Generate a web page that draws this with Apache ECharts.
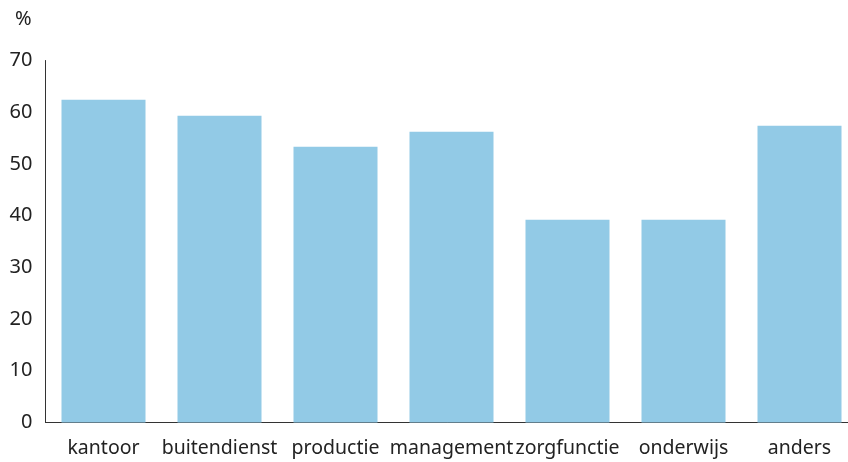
<!DOCTYPE html>
<html><head><meta charset="utf-8">
<script src="https://cdn.jsdelivr.net/npm/echarts@6/dist/echarts.min.js"></script>
<style>html,body{margin:0;padding:0;background:#fff}#c{width:848px;height:462px}</style>
</head><body><div id="c"></div>
<script>
const categories = ['kantoor','buitendienst','productie','management','zorgfunctie','onderwijs','anders'];
const values = [62.4, 59.3, 53.3, 56.2, 39.2, 39.2, 57.4];
const yTicks = [0,10,20,30,40,50,60,70];
const unitLabel = '%';

const chart = echarts.init(document.getElementById('c'), null, {renderer:'canvas'});
const font = 'Noto Sans';
chart.setOption({
  animation:false,
  grid:{left:45.5, top:60.5, right:-9.5, bottom:39.5, containLabel:false, outerBoundsMode:'none'},
  graphic:[{type:'text', left:15, top:9, style:{text:unitLabel, font:'20px "Noto Sans"', fill:'#222'}}],
  xAxis:{type:'category', data:categories,
    axisLine:{lineStyle:{color:'#333', width:1}}, axisTick:{show:false},
    axisLabel:{color:'#222', fontFamily:font, fontSize:19.5, margin:16, interval:0}},
  yAxis:{type:'value', min:yTicks[0], max:yTicks[yTicks.length-1], interval:10,
    axisLine:{show:true, lineStyle:{color:'#333', width:1}}, axisTick:{show:false},
    splitLine:{show:false},
    axisLabel:{color:'#222', fontFamily:font, fontSize:20, margin:13}},
  series:[{type:'bar', data:values, barWidth:84, itemStyle:{color:'#92cae6'}}]
});
</script></body></html>
